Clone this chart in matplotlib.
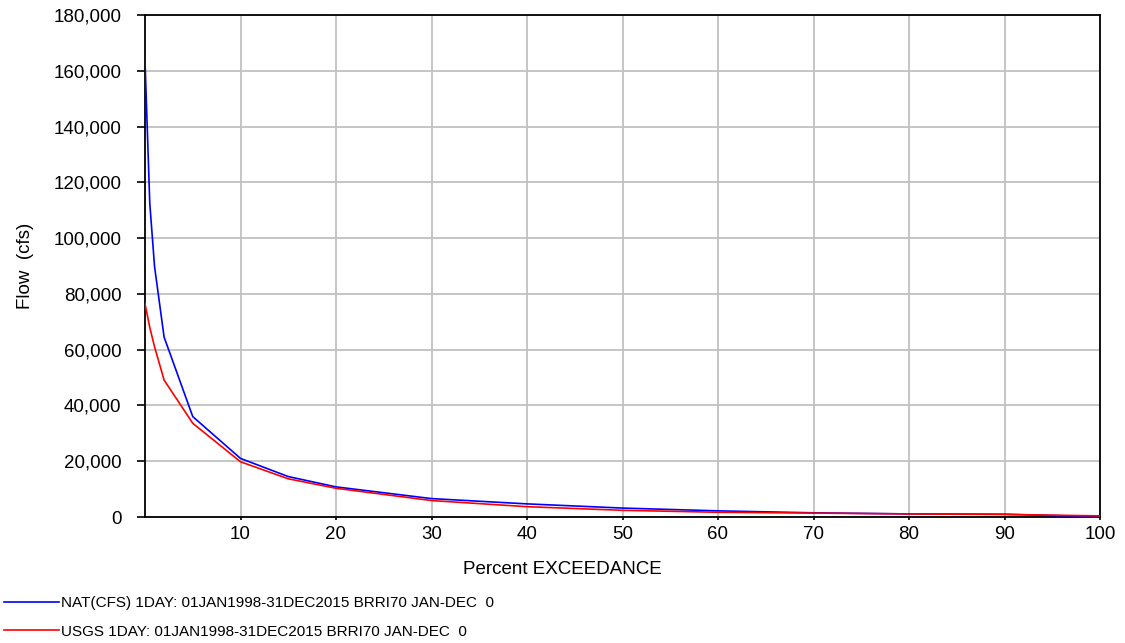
import matplotlib
matplotlib.use("Agg")
import matplotlib.pyplot as plt
from matplotlib.ticker import FuncFormatter

plt.rcParams['font.family'] = ['Liberation Sans', 'DejaVu Sans']

# Flow-duration data: percent exceedance vs daily flow (cfs)
pct = [0, 0.5, 1, 2, 5, 10, 15, 20, 30, 40, 50, 60, 70, 80, 90, 100]
nat_flow = [163600, 112500, 89800, 64500, 36000, 21000, 14500, 10800,
            6600, 4700, 3200, 2200, 1500, 1100, 1000, 100]
usgs_flow = [76500, 68000, 61000, 49100, 33600, 19800, 13700, 10300,
             5900, 3700, 2400, 1700, 1400, 1100, 900, 400]

nat_label = "NAT(CFS) 1DAY: 01JAN1998-31DEC2015 BRRI70 JAN-DEC  0"
usgs_label = "USGS 1DAY: 01JAN1998-31DEC2015 BRRI70 JAN-DEC  0"

x_ticks = [10, 20, 30, 40, 50, 60, 70, 80, 90, 100]
y_ticks = list(range(0, 180001, 20000))

W, H = 1125, 643
fig = plt.figure(figsize=(W / 100, H / 100), dpi=100)
ax = fig.add_axes([145 / W, 1 - 517 / H, (1100 - 145) / W, (517 - 15) / H])

l1, = ax.plot(pct, nat_flow, color='#0000ff', lw=1.2, label=nat_label, zorder=3)
l2, = ax.plot(pct, usgs_flow, color='#ff0000', lw=1.2, label=usgs_label, zorder=3)

ax.set_xlim(0, 100)
ax.set_ylim(0, 180000)
ax.set_xticks(x_ticks)
ax.set_yticks(y_ticks)
ax.yaxis.set_major_formatter(FuncFormatter(lambda v, p: f"{int(v):,}"))
ax.grid(True, color='#c0c0c0', lw=1.3)
ax.set_axisbelow(True)
for s in ax.spines.values():
    s.set_color('black')
    s.set_linewidth(1.3)
ax.tick_params(axis='y', direction='out', length=6, width=1.2, labelsize=13.5, pad=11)
ax.tick_params(axis='x', direction='out', length=2.5, width=1.2, labelsize=13.5, pad=4)

fig.text(25 / W, 1 - 266 / H, "Flow  (cfs)", rotation=90, ha='center', va='center',
         fontsize=13.5)
fig.text(0.5, 1 - 569 / H, "Percent EXCEEDANCE", ha='center', va='center', fontsize=13.5)

fig.legend(handles=[l1, l2], loc='upper left', bbox_to_anchor=(4 / W, 1 - 596 / H),
           frameon=False, fontsize=11, handlelength=3.6, handletextpad=0.1,
           labelspacing=0.95, borderaxespad=0, borderpad=0)

fig.savefig("out.png", dpi=100)
